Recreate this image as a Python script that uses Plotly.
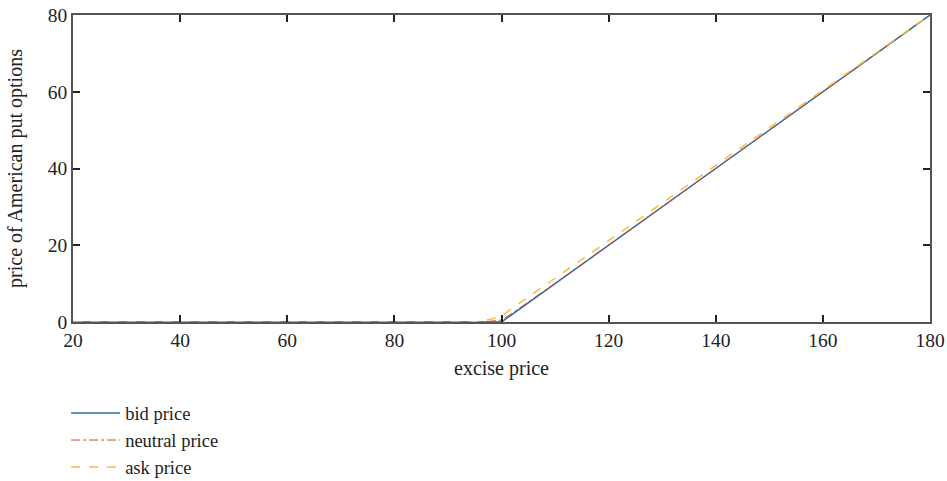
import plotly.graph_objects as go

strike = [20, 40, 60, 80, 90, 94, 96, 98, 100, 102, 105, 110, 120, 130, 140, 150, 160, 170, 180]
bid = [0, 0, 0, 0, 0, 0, 0, 0, 0, 2, 5, 10, 20, 30, 40, 50, 60, 70, 80]
neutral = [0, 0, 0, 0, 0, 0, 0, 0.2, 0.5, 2.3, 5.2, 10.1, 20.05, 30.0, 40.0, 50.0, 60.0, 70.0, 80]
ask = [0, 0, 0, 0, 0, 0, 0.2, 0.7, 1.6, 3.5, 6.5, 11.4, 21.2, 31.0, 40.8, 50.6, 60.4, 70.2, 80]

font = "Liberation Serif, Times New Roman, serif"

fig = go.Figure()
fig.add_trace(go.Scatter(x=strike, y=bid, mode="lines", name="bid price",
                         line=dict(color="#2f68b0", width=1.5)))
fig.add_trace(go.Scatter(x=strike, y=neutral, mode="lines", name="neutral price",
                         line=dict(color="#c0502f", width=1, dash="dashdot")))
fig.add_trace(go.Scatter(x=strike, y=ask, mode="lines", name="ask price",
                         line=dict(color="#f0c040", width=1.5, dash="dash")))

axis_common = dict(showgrid=False, zeroline=False, showline=True, linecolor="#555555",
                   linewidth=1.5, mirror="ticks", ticks="inside", ticklen=7,
                   tickwidth=2, tickcolor="#222222", automargin=False,
                   tickfont=dict(family=font, size=19.5, color="#222222"))

fig.update_layout(
    width=947, height=481,
    margin=dict(l=73, r=17, t=15, b=159, autoexpand=False),
    paper_bgcolor="white", plot_bgcolor="white",
    font=dict(family=font, size=20, color="#222222"),
    xaxis=dict(range=[20, 180], tickvals=[20, 40, 60, 80, 100, 120, 140, 160, 180],
               title=dict(text="excise price", standoff=11, font=dict(family=font, size=20)),
               **axis_common),
    yaxis=dict(range=[0, 80], tickvals=[0, 20, 40, 60, 80],
               title=dict(text="price of American put options", standoff=20,
                          font=dict(family=font, size=20)),
               **axis_common),
    legend=dict(x=-0.008, y=-0.236, xanchor="left", yanchor="top",
                font=dict(family=font, size=18.5, color="#222222"),
                tracegroupgap=0, itemwidth=49, bgcolor="rgba(0,0,0,0)"),
    showlegend=True,
)

fig.write_html("out.html", config={"displayModeBar": False},
               post_script="document.body.style.margin='0';document.body.style.overflow='hidden';")
